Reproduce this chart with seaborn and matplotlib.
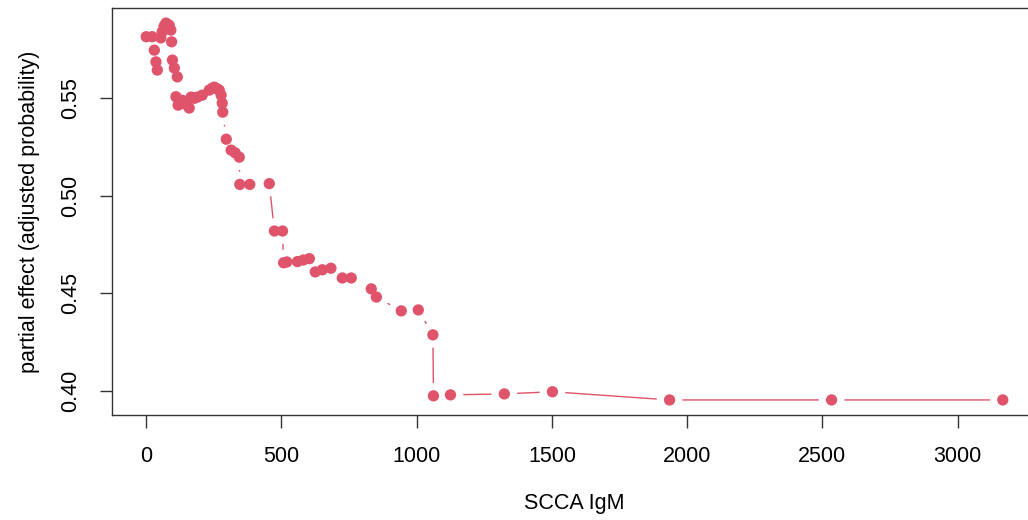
import numpy as np
import pandas as pd
import seaborn as sns
import matplotlib.pyplot as plt

# values
scca_igm = [0, 22, 30, 36, 41, 54, 59, 66, 73, 78, 85, 91, 94, 97, 104,
            110, 115, 118, 133, 145, 159, 166, 178, 189, 207, 233, 244, 252,
            263, 270, 277, 281, 283, 296, 314, 329, 344, 346, 383, 455, 474,
            504, 508, 520, 559, 581, 603, 625, 651, 683, 725, 758, 832, 851,
            943, 1006, 1060, 1062, 1125, 1324, 1502, 1935, 2534, 3167]
partial_effect = [0.5816, 0.5816, 0.5747, 0.5687, 0.5645, 0.5810, 0.5841, 0.5870,
                  0.5886, 0.5880, 0.5875, 0.5850, 0.5790, 0.5696, 0.5655,
                  0.5508, 0.5610, 0.5465, 0.5490, 0.5470, 0.5450, 0.5506, 0.5500,
                  0.5506, 0.5516, 0.5542, 0.5552, 0.5557, 0.5548, 0.5542, 0.5516,
                  0.5475, 0.5429, 0.5290, 0.5234, 0.5220, 0.5198, 0.5058, 0.5058,
                  0.5062, 0.4819, 0.4819, 0.4656, 0.4660, 0.4662, 0.4670, 0.4677,
                  0.4609, 0.4620, 0.4628, 0.4578, 0.4578, 0.4522, 0.4480, 0.4409,
                  0.4414, 0.4286, 0.3973, 0.3978, 0.3983, 0.3994, 0.3952, 0.3952,
                  0.3952]
x_ticks = [0, 500, 1000, 1500, 2000, 2500, 3000]
y_ticks = [0.40, 0.45, 0.50, 0.55]

df = pd.DataFrame({"SCCA IgM": scca_igm, "effect": partial_effect})

sns.set_theme(style="white")
plt.rcParams['font.family'] = ['Liberation Sans', 'DejaVu Sans']

col = "#DF536B"
fig = plt.figure(figsize=(10.28, 5.2), dpi=100)
ax = fig.add_axes([0.1089, 0.2019, 0.8999, 0.7827])

# type="b" look: line, then white gaps around the points, then the points
sns.lineplot(data=df, x="SCCA IgM", y="effect", sort=True, estimator=None,
             color=col, linewidth=1, ax=ax, zorder=1)
sns.scatterplot(data=df, x="SCCA IgM", y="effect", s=340, color="white",
                edgecolor="none", ax=ax, zorder=2)
sns.scatterplot(data=df, x="SCCA IgM", y="effect", s=66, color=col,
                edgecolor="none", ax=ax, zorder=3)

xr = max(scca_igm) - min(scca_igm)
yr = max(partial_effect) - min(partial_effect)
ax.set_xlim(min(scca_igm) - 0.04 * xr, max(scca_igm) + 0.04 * xr)
ax.set_ylim(min(partial_effect) - 0.04 * yr, max(partial_effect) + 0.04 * yr)

ax.set_xticks(x_ticks)
ax.set_yticks(y_ticks)
ax.set_yticklabels([f"{v:.2f}" for v in y_ticks], rotation=90, va="center")
ax.tick_params(axis="both", which="major", length=9, width=1, color="#333333",
               labelsize=15.5, labelcolor="black", pad=13, bottom=True, left=True)

for sp in ax.spines.values():
    sp.set_visible(True)
    sp.set_color("#333333")
    sp.set_linewidth(1)

ax.set_xlabel("SCCA IgM", fontsize=15.5, labelpad=19, color="black")
ax.set_ylabel("partial effect (adjusted probability)", fontsize=15.5, labelpad=15,
              color="black")

fig.savefig("out.png", dpi=100)
